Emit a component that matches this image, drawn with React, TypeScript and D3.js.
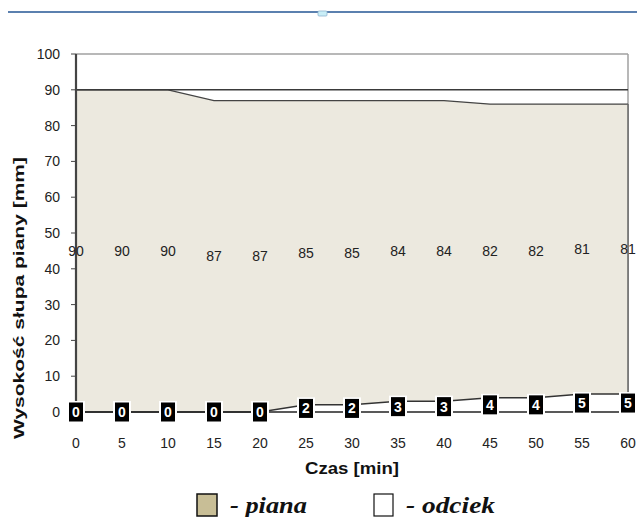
import React from "react";
import * as d3 from "d3";

const times = [0, 5, 10, 15, 20, 25, 30, 35, 40, 45, 50, 55, 60];
const piana = [90, 90, 90, 87, 87, 85, 85, 84, 84, 82, 82, 81, 81];
const odciek = [0, 0, 0, 0, 0, 2, 2, 3, 3, 4, 4, 5, 5];
const yTicks = [0, 10, 20, 30, 40, 50, 60, 70, 80, 90, 100];
const initialHeight = 90;

export default function App() {
  const W = 637, H = 517;
  const x = d3.scaleLinear().domain([0, 60]).range([76, 628]);
  const y = d3.scaleLinear().domain([0, 100]).range([412, 54]);
  const rows = times.map((t, i) => ({ t, p: piana[i], o: odciek[i] }));

  const foamArea = d3.area<any>().x(d => x(d.t)).y0(d => y(d.o)).y1(d => y(d.o + d.p));
  const foamTop = d3.line<any>().x(d => x(d.t)).y(d => y(d.o + d.p));
  const odcArea = d3.area<any>().x(d => x(d.t)).y0(y(0)).y1(d => y(d.o));
  const odcTop = d3.line<any>().x(d => x(d.t)).y(d => y(d.o));

  const font = "Arial, 'Liberation Sans', sans-serif";
  const serif = "'Times New Roman', 'Liberation Serif', serif";
  return (
    <svg width={W} height={H} style={{ position: "absolute", left: 0, top: 0, background: "#fff" }}>
      {/* top decorative line */}
      <line x1={8} x2={637} y1={12} y2={12} stroke="#5B80AF" strokeWidth={2} />
      <rect x={318} y={11} width={9} height={5} rx={1} fill="#C9EEF7" stroke="#8FB4CF" strokeWidth={0.8} />

      {/* plot border */}
      <line x1={x(0)} x2={x(60)} y1={y(100)} y2={y(100)} stroke="#A0A0A0" strokeWidth={1.5} />
      <line x1={x(60)} x2={x(60)} y1={y(100)} y2={y(0)} stroke="#A0A0A0" strokeWidth={1.5} />

      <path d={foamArea(rows) || ""} fill="#ECE9DF" />
      <path d={odcArea(rows) || ""} fill="#FFFFFF" />
      <path d={foamTop(rows) || ""} fill="none" stroke="#444" strokeWidth={1.2} />
      <line x1={x(60)} x2={x(60)} y1={y(piana[12] + odciek[12])} y2={y(0)} stroke="#666" strokeWidth={1.5} />
      <line x1={x(0)} x2={x(60)} y1={y(initialHeight)} y2={y(initialHeight)} stroke="#3A3A3A" strokeWidth={1.5} />
      <path d={odcTop(rows) || ""} fill="none" stroke="#333" strokeWidth={1.5} />
      <line x1={x(0)} x2={x(60)} y1={y(0)} y2={y(0)} stroke="#222" strokeWidth={1.5} />

      {/* left axis */}
      <line x1={x(0)} x2={x(0)} y1={y(100)} y2={y(0)} stroke="#444" strokeWidth={2.2} />
      {yTicks.map(v => (
        <g key={v}>
          <line x1={x(0) - 5} x2={x(0)} y1={y(v)} y2={y(v)} stroke="#444" strokeWidth={1} />
          <text x={60} y={y(v) + 5} textAnchor="end" fontFamily={font} fontSize={14} fill="#222">{v}</text>
        </g>
      ))}
      {times.map(t => (
        <text key={t} x={x(t)} y={448} textAnchor="middle" fontFamily={font} fontSize={14} fill="#222">{t}</text>
      ))}

      {/* foam labels */}
      {rows.map(d => (
        <text key={"p" + d.t} x={x(d.t)} y={y(d.o + d.p / 2) + 5} textAnchor="middle" fontFamily={font} fontSize={14} fill="#222">{d.p}</text>
      ))}
      {/* odciek labels */}
      {rows.map(d => (
        <g key={"o" + d.t} transform={`translate(${x(d.t)},${y(d.o / 2)})`}>
          <rect x={-9} y={-11} width={18} height={22} fill="#fff" />
          <rect x={-7} y={-9.5} width={14} height={19} fill="#000" />
          <text x={0} y={5} textAnchor="middle" fontFamily={font} fontSize={14} fontWeight="bold" fill="#fff">{d.o}</text>
        </g>
      ))}

      {/* axis titles */}
      <text x={352} y={474} textAnchor="middle" fontFamily={font} fontSize={16} fontWeight="bold" fill="#111" textLength={94} lengthAdjust="spacingAndGlyphs">Czas [min]</text>
      <text transform="translate(24,298) rotate(-90)" textAnchor="middle" fontFamily={font} fontSize={15} fontWeight="bold" fill="#111" textLength={282} lengthAdjust="spacingAndGlyphs">Wysokość słupa piany [mm]</text>

      {/* legend */}
      <rect x={197} y={494} width={20} height={22} fill="#C8BE96" stroke="#111" strokeWidth={1.5} />
      <text x={230} y={513} fontFamily={serif} fontSize={23} fontWeight="bold" fontStyle="italic" fill="#111" textLength={77} lengthAdjust="spacingAndGlyphs">- piana</text>
      <rect x={374} y={494} width={19} height={22} fill="#fff" stroke="#111" strokeWidth={1.2} />
      <text x={406} y={513} fontFamily={serif} fontSize={23} fontWeight="bold" fontStyle="italic" fill="#111" textLength={89} lengthAdjust="spacingAndGlyphs">- odciek</text>
    </svg>
  );
}
